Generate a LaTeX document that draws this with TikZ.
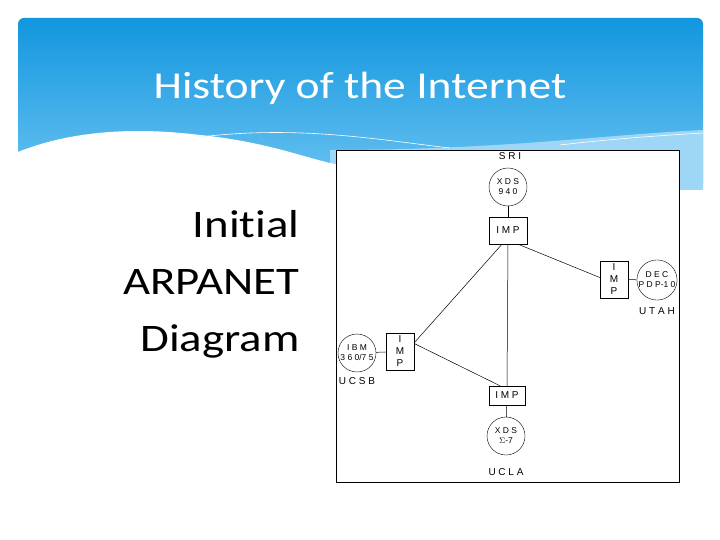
\documentclass[tikz,border=0pt]{standalone}
\usepackage{fontspec}
\setmainfont{Carlito}[RawFeature={-liga},FakeStretch=1.2]
\newfontfamily\diag{Liberation Sans}
\definecolor{hdtop}{HTML}{1296DE}
\definecolor{hdbot}{HTML}{6CC4F2}
\definecolor{band}{HTML}{9ED6F5}
\begin{document}
\begin{tikzpicture}[x=1pt,y=-1pt,
  comp/.style={draw,circle,minimum size=38pt,inner sep=0pt,font=\diag\fontsize{8.5}{10}\selectfont,align=center},
  imp/.style={draw,rectangle,inner sep=0pt,font=\diag\fontsize{10}{12}\selectfont,align=center},
  site/.style={font=\diag\fontsize{10}{12}\selectfont},
  link/.style={line width=0.5pt}]
\useasboundingbox (0,0) rectangle (720,540);
\fill[white] (0,0) rectangle (720,540);
\shade[top color=hdtop, bottom color=hdbot, rounded corners=6pt]
  (18,18) rectangle (703,190);
\fill[band] (330,150) .. controls (500,150) and (600,135) .. (703,130) -- (703,190) -- (330,190) -- cycle;
\fill[white] (18,152) .. controls (60,135) and (120,125) .. (200,135) .. controls (270,142) and (310,160) .. (340,165) -- (700,205) -- (703,190) -- (703,540) -- (18,540) -- cycle;
\draw[white,line width=0.6pt] (200,137) .. controls (300,125) and (380,140) .. (450,148);
\draw[white,line width=0.6pt] (560,145) .. controls (620,138) and (670,135) .. (703,133);
\node[white,font=\fontsize{38}{44}\selectfont] (title) at (360,88) {History of the Internet};
\node[align=right,anchor=east,font=\fontsize{39}{57}\selectfont] (lbl) at (303,284) {Initial\\ARPANET\\Diagram};
\node[draw,fill=white,line width=0.8pt,minimum width=343pt,minimum height=332pt,anchor=north west,inner sep=0pt] (frame) at (336,150) {};
\node[site] (sri) at (510,156) {S R I};
\node[comp] (xds940) at (508,187) {X D S\\9 4 0};
\node[imp,minimum width=38pt,minimum height=27pt] (imp1) at (508,230.5) {I M P};
\node[imp,minimum width=28pt,minimum height=37pt] (imp2) at (614,279.5) {I\\M\\P};
\node[comp] (dec) at (657,280) {D E C\\P D P-1 0};
\node[site] (utah) at (657,311) {U T A H};
\node[imp,minimum width=28pt,minimum height=37pt] (imp3) at (400,351.5) {I\\M\\P};
\node[comp] (ibm) at (357,353) {I B M\\3 6 0/7 5};
\node[site] (ucsb) at (357,381) {U C S B};
\node[imp,minimum width=36pt,minimum height=19pt] (imp4) at (507,395.5) {I M P};
\node[comp] (xds7) at (506,436) {X D S\\$\Sigma$-7};
\node[site] (ucla) at (506,472) {U C L A};
\draw[link] (xds940) -- (imp1);
\draw[link] (dec) -- (imp2);
\draw[link] (ibm) -- (imp3);
\draw[link] (xds7) -- (imp4);
\draw[link] ([xshift=-6pt]imp1.south) -- ([yshift=-10pt]imp3.north east);
\draw[link] ([xshift=10pt]imp1.south) -- ([yshift=2pt]imp2.west);
\draw[link] (imp1.south) -- (imp4.north);
\draw[link] ([yshift=8pt]imp3.east) -- ([xshift=-7pt]imp4.north);
\end{tikzpicture}
\end{document}
